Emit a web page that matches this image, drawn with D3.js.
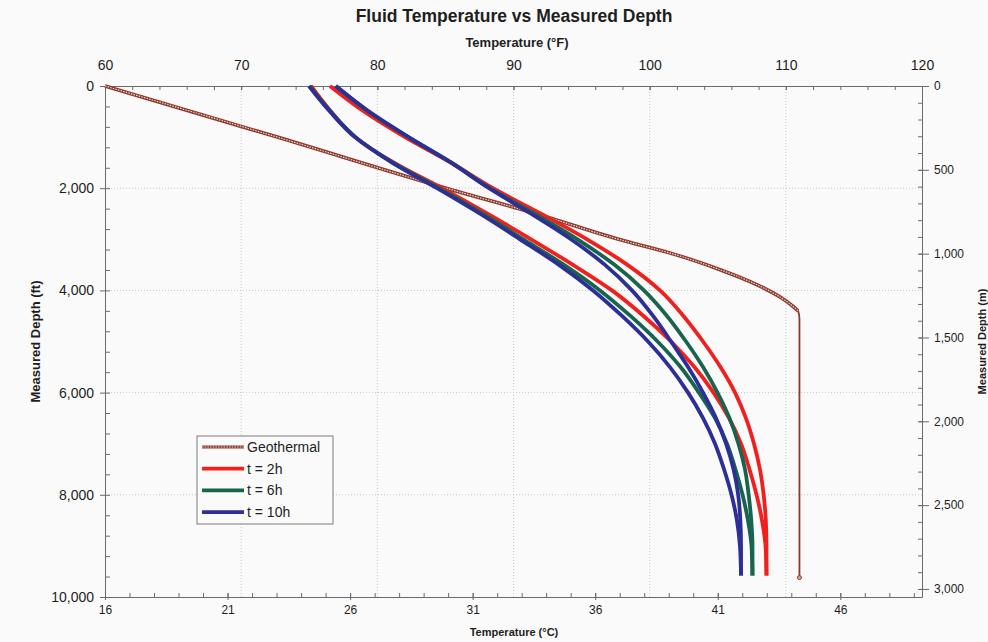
<!DOCTYPE html>
<html>
<head>
<meta charset="utf-8">
<script src="https://cdn.jsdelivr.net/npm/d3@7"></script>
<style>
  body { margin: 0; background: #fafafa; }
  svg { display: block; font-family: "Liberation Sans", Arial, sans-serif; }
</style>
</head>
<body>
<div id="chart"></div>
<script>
const WIDTH = 988;
const HEIGHT = 642;

// measured depth (ft) where the fluid curves were read
const depthFt = [0, 500, 1000, 1500, 2000, 2500, 3000, 3500, 4000, 4500,
                 5000, 5500, 6000, 6500, 7000, 7500, 8000, 8500, 9000, 9580];

// fluid temperature (°F), two branches per time
const t2hA  = [75.13, 76.60, 78.36, 81.22, 84.75, 88.09, 91.29, 94.37, 97.23, 99.55,
               101.57, 103.29, 104.69, 105.83, 106.71, 107.33, 107.85, 108.25, 108.51, 108.58];
const t2hB  = [76.52, 79.02, 82.03, 85.41, 88.49, 92.02, 95.40, 98.37, 100.76, 102.48,
               103.92, 105.20, 106.27, 107.07, 107.66, 108.10, 108.37, 108.53, 108.58, 108.58];
const t6hA  = [75.02, 76.56, 78.40, 81.15, 84.53, 87.72, 90.73, 93.71, 96.35, 98.59,
               100.58, 102.27, 103.62, 104.80, 105.68, 106.30, 106.82, 107.22, 107.48, 107.55];
const t6hB  = [76.93, 79.35, 82.29, 85.45, 88.27, 91.54, 94.70, 97.42, 99.58, 101.27,
               102.67, 103.92, 104.98, 105.86, 106.52, 107.00, 107.27, 107.46, 107.55, 107.55];
const t10hA = [74.98, 76.52, 78.36, 81.08, 84.38, 87.54, 90.48, 93.34, 95.84, 97.97,
               99.88, 101.49, 102.82, 103.92, 104.80, 105.46, 106.01, 106.41, 106.63, 106.71];
const t10hB = [76.96, 79.39, 82.29, 85.41, 88.20, 91.29, 94.22, 96.72, 98.70, 100.25,
               101.57, 102.82, 103.92, 104.87, 105.61, 106.16, 106.50, 106.66, 106.71, 106.71];

// geothermal profile
const geoDepth = [0, 1000, 2000, 2500, 3000, 3300, 3600, 3900, 4150, 4400, 4550, 9620];
const geoTemp  = [60, 72.65, 85.05, 91.66, 97.72, 101.89, 105.22, 107.97, 109.7, 110.9, 111.0, 111.0];

const legendLabels = ['Geothermal', 't = 2h', 't = 6h', 't = 10h'];
const seriesColors = ['#8b3a2e', '#f0201e', '#17654f', '#2b2f96'];

const mLeft = 105, mRight = 922, mTop = 86, mBottom = 597;

var svg = d3.select('#chart')
    .append('svg')
    .attr('width', WIDTH)
    .attr('height', HEIGHT)

svg.append('rect').attr('width', WIDTH).attr('height', HEIGHT).attr('fill', '#fafafa');

let xF = d3.scaleLinear().domain([60, 120]).range([mLeft, mRight]);
let xC = d3.scaleLinear().domain([16, 16 + 60 / 1.8]).range([mLeft, mRight]);
let yFt = d3.scaleLinear().domain([0, 10000]).range([mTop, mBottom]);
let yM = d3.scaleLinear().domain([0, 10000 / 3.28084]).range([mTop, mBottom]);

// grid
svg.append('g')
    .selectAll('line')
    .data(d3.range(70, 120, 10))
    .enter()
    .append('line')
    .attr('x1', d => xF(d)).attr('x2', d => xF(d))
    .attr('y1', mTop).attr('y2', mBottom)
    .attr('stroke', '#c8c8c8').attr('stroke-dasharray', '1,2');

svg.append('g')
    .selectAll('line')
    .data(d3.range(2000, 10000, 2000))
    .enter()
    .append('line')
    .attr('x1', mLeft).attr('x2', mRight)
    .attr('y1', d => yFt(d)).attr('y2', d => yFt(d))
    .attr('stroke', '#c8c8c8').attr('stroke-dasharray', '1,2');

const AXIS_COLOR = '#6b6b6b';
const fmt = d3.format(',');

function styleAxis(g) {
    g.select('.domain').attr('stroke', AXIS_COLOR);
    g.selectAll('.tick line').attr('stroke', AXIS_COLOR);
    g.selectAll('.tick text').attr('fill', '#1e1e1e').attr('font-family', null);
}

// minor ticks
function minor(g, axis) {
    g.call(axis.tickFormat('').tickSizeOuter(0));
    g.select('.domain').remove();
    g.selectAll('.tick line').attr('stroke', AXIS_COLOR);
}

svg.append('g').attr('transform', `translate(0,${mTop})`)
    .call(g => minor(g, d3.axisBottom(xF).tickValues(d3.range(62, 120, 2)).tickSize(4)));
svg.append('g').attr('transform', `translate(0,${mBottom})`)
    .call(g => minor(g, d3.axisTop(xC).tickValues(d3.range(17, 50, 1)).tickSize(4)));
svg.append('g').attr('transform', `translate(${mLeft},0)`)
    .call(g => minor(g, d3.axisRight(yFt).tickValues(d3.range(400, 10000, 400)).tickSize(5)));
svg.append('g').attr('transform', `translate(${mRight},0)`)
    .call(g => minor(g, d3.axisLeft(yM).tickValues(d3.range(100, 3100, 100)).tickSize(4)));

// top axis (°F)
svg.append('g')
    .attr('transform', `translate(0,${mTop})`)
    .call(d3.axisTop(xF).tickValues(d3.range(60, 121, 10)).tickSize(4).tickSizeOuter(0))
    .call(styleAxis)
    .call(g => g.selectAll('.tick line').attr('y2', 4))
    .call(g => g.selectAll('.tick text').attr('y', -16).attr('font-size', 14));

// bottom axis (°C)
svg.append('g')
    .attr('transform', `translate(0,${mBottom})`)
    .call(d3.axisBottom(xC).tickValues(d3.range(16, 47, 5)).tickSize(3).tickSizeOuter(0))
    .call(styleAxis)
    .call(g => g.selectAll('.tick line').attr('y1', -4))
    .call(g => g.selectAll('.tick text').attr('y', 8).attr('font-size', 12));

// left axis (ft)
svg.append('g')
    .attr('transform', `translate(${mLeft},0)`)
    .call(d3.axisLeft(yFt).tickValues(d3.range(0, 10001, 2000)).tickFormat(fmt).tickSize(5).tickSizeOuter(0))
    .call(styleAxis)
    .call(g => g.selectAll('.tick text').attr('x', -11).attr('font-size', 14));

// right axis (m)
svg.append('g')
    .attr('transform', `translate(${mRight},0)`)
    .call(d3.axisRight(yM).tickValues(d3.range(0, 3001, 500)).tickFormat(fmt).tickSize(7).tickSizeOuter(0))
    .call(styleAxis)
    .call(g => g.selectAll('.tick line').attr('x1', -3))
    .call(g => g.selectAll('.tick text').attr('x', 12).attr('font-size', 12));

// titles
svg.append('text')
    .attr('x', 514).attr('y', 22)
    .attr('text-anchor', 'middle')
    .attr('font-size', 17.5).attr('font-weight', 'bold').attr('fill', '#1e1e1e')
    .text('Fluid Temperature vs Measured Depth');

svg.append('text')
    .attr('x', 517).attr('y', 47)
    .attr('text-anchor', 'middle')
    .attr('font-size', 13).attr('font-weight', 'bold').attr('fill', '#1e1e1e')
    .text('Temperature (°F)');

svg.append('text')
    .attr('x', 514).attr('y', 636)
    .attr('text-anchor', 'middle')
    .attr('font-size', 11).attr('font-weight', 'bold').attr('fill', '#1e1e1e')
    .text('Temperature (°C)');

svg.append('text')
    .attr('transform', `translate(40,${(mTop + mBottom) / 2}) rotate(-90)`)
    .attr('text-anchor', 'middle')
    .attr('font-size', 13).attr('font-weight', 'bold').attr('fill', '#1e1e1e')
    .text('Measured Depth (ft)');

svg.append('text')
    .attr('transform', `translate(986,${(mTop + mBottom) / 2}) rotate(-90)`)
    .attr('text-anchor', 'middle')
    .attr('font-size', 11).attr('font-weight', 'bold').attr('fill', '#1e1e1e')
    .text('Measured Depth (m)');

// curves
let line = d3.line()
    .x(d => xF(d.t))
    .y(d => yFt(d.z))
    .curve(d3.curveMonotoneY);

function pts(temps, depths) {
    return temps.map((t, i) => ({ t: t, z: depths[i] }));
}

// geothermal: textured band over the sloped part, thin line below
let geo = pts(geoTemp, geoDepth);
let plot = svg.append('g');

plot.append('path')
    .attr('d', line(geo))
    .attr('fill', 'none')
    .attr('stroke', seriesColors[0])
    .attr('stroke-width', 1.8);

let geoTop = geo.filter(d => d.z <= 4500);
plot.append('path')
    .attr('d', line(geoTop))
    .attr('fill', 'none')
    .attr('stroke', seriesColors[0])
    .attr('stroke-width', 3.6);
plot.append('path')
    .attr('d', line(geoTop))
    .attr('fill', 'none')
    .attr('stroke', '#f2d8cc')
    .attr('stroke-width', 1.2)
    .attr('stroke-dasharray', '1.5,1.2');

plot.append('circle')
    .attr('cx', xF(geoTemp[geoTemp.length - 1]))
    .attr('cy', yFt(geoDepth[geoDepth.length - 1]))
    .attr('r', 2)
    .attr('fill', '#d9a58f')
    .attr('stroke', seriesColors[0]);

let fluid = [
    { temps: t2hA, color: seriesColors[1] },
    { temps: t2hB, color: seriesColors[1] },
    { temps: t6hA, color: seriesColors[2] },
    { temps: t6hB, color: seriesColors[2] },
    { temps: t10hA, color: seriesColors[3] },
    { temps: t10hB, color: seriesColors[3] }
];

plot.selectAll('path.fluid')
    .data(fluid)
    .enter()
    .append('path')
    .attr('class', 'fluid')
    .attr('d', d => line(pts(d.temps, depthFt)))
    .attr('fill', 'none')
    .attr('stroke', d => d.color)
    .attr('stroke-width', 3.8);

// legend
let legend = svg.append('g').attr('transform', 'translate(197,436)');
legend.append('rect')
    .attr('width', 136).attr('height', 88)
    .attr('fill', '#fafafa')
    .attr('stroke', '#7a7a7a');

let items = legend.selectAll('g.item')
    .data(legendLabels)
    .enter()
    .append('g')
    .attr('class', 'item')
    .attr('transform', (d, i) => `translate(0,${11 + i * 21.7})`);

items.append('line')
    .attr('x1', 5).attr('x2', 47)
    .attr('stroke', (d, i) => seriesColors[i])
    .attr('stroke-width', (d, i) => i == 0 ? 3 : 3.8);

items.filter((d, i) => i == 0)
    .append('line')
    .attr('x1', 5).attr('x2', 47)
    .attr('stroke', '#f2d8cc')
    .attr('stroke-width', 1)
    .attr('stroke-dasharray', '1.5,1.2');

items.append('text')
    .attr('x', 50).attr('y', 5)
    .attr('font-size', 14).attr('fill', '#1e1e1e')
    .text(d => d);
</script>
</body>
</html>
